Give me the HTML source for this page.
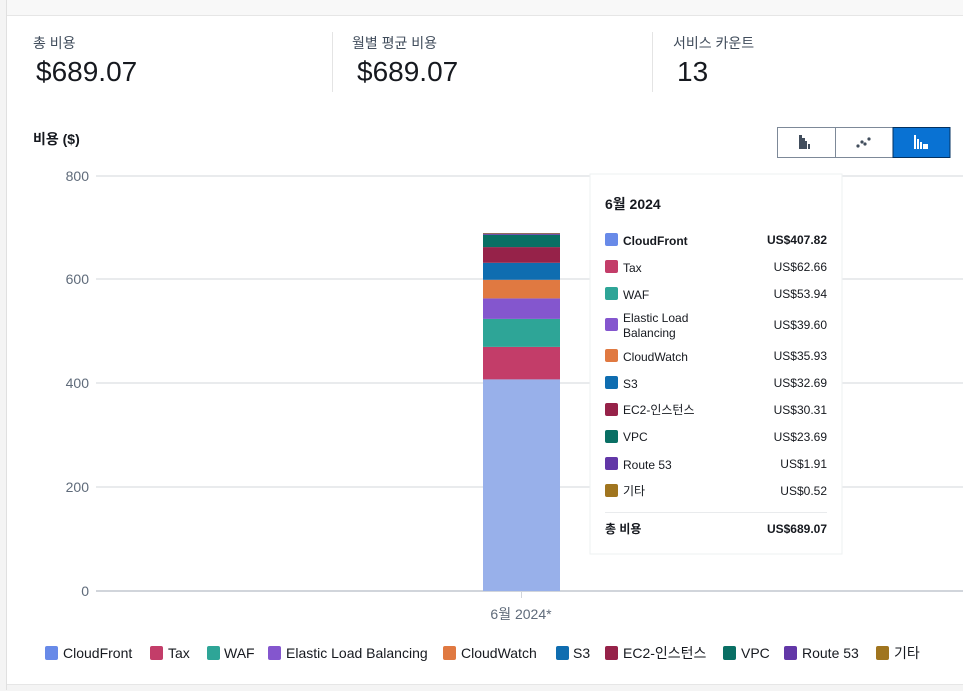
<!DOCTYPE html>
<html><head><meta charset="utf-8"><style>
body{margin:0;width:963px;height:690px;overflow:hidden;background:#fff;font-family:"Liberation Sans","Noto Sans CJK KR",sans-serif;position:relative}
.a{position:absolute;white-space:nowrap}
</style></head><body>
<div class="a" style="left:0;top:0;width:963px;height:15px;background:#f8f8f8;border-bottom:1px solid #e6e6e6"></div>
<div class="a" style="left:0;top:684px;width:963px;height:6px;background:#f4f4f4;border-top:1px solid #e6e6e6"></div>
<div class="a" style="left:0;top:0;width:6px;height:690px;background:#f4f4f4;border-right:1px solid #e0e0e0"></div>
<div class="a" style="left:332px;top:32px;width:1px;height:60px;background:#e4e4e4"></div>
<div class="a" style="left:652px;top:32px;width:1px;height:60px;background:#e4e4e4"></div>
<div class="a" style="left:33px;top:33px;font-size:14px;color:#414d5c">총 비용</div>
<div class="a" style="left:36px;top:56px;font-size:28px;color:#16191f">$689.07</div>
<div class="a" style="left:352px;top:33px;font-size:14px;color:#414d5c">월별 평균 비용</div>
<div class="a" style="left:357px;top:56px;font-size:28px;color:#16191f">$689.07</div>
<div class="a" style="left:673px;top:33px;font-size:14px;color:#414d5c">서비스 카운트</div>
<div class="a" style="left:677px;top:56px;font-size:28px;color:#16191f">13</div>
<div class="a" style="left:33px;top:129px;font-size:14px;font-weight:bold;color:#16191f">비용 ($)</div>
<svg class="a" style="left:0;top:0" width="963" height="690" font-family="Liberation Sans, Noto Sans CJK KR, sans-serif">
<rect x="777.5" y="127.5" width="172" height="30" fill="#fff" stroke="#7d8998"/>
<line x1="835.5" y1="128" x2="835.5" y2="157" stroke="#7d8998"/>
<rect x="893" y="127.5" width="57" height="30" fill="#0972d3" stroke="#033160"/>
<g fill="#414d5c"><rect x="799" y="135" width="3" height="14"/><rect x="802" y="138" width="3" height="11"/><rect x="805" y="141" width="2" height="8"/><rect x="808" y="144" width="2" height="5"/></g>
<g fill="#414d5c"><circle cx="858" cy="146" r="1.6"/><circle cx="862" cy="142" r="1.6"/><circle cx="865" cy="144" r="1.6"/><circle cx="869" cy="139" r="1.6"/></g>
<g fill="#fff"><rect x="914" y="135" width="2" height="14"/><rect x="917" y="139" width="2" height="10"/><rect x="920" y="142" width="2" height="7"/><rect x="923" y="144" width="5" height="5"/></g>
<g stroke="#e9ebed" stroke-width="2"><line x1="96" y1="176" x2="963" y2="176"/><line x1="96" y1="279" x2="963" y2="279"/><line x1="96" y1="383" x2="963" y2="383"/><line x1="96" y1="487" x2="963" y2="487"/></g>
<line x1="96" y1="591" x2="963" y2="591" stroke="#d1d5db" stroke-width="2"/>
<g font-size="14" fill="#5f6b7a" text-anchor="end"><text x="89" y="181">800</text><text x="89" y="284">600</text><text x="89" y="388">400</text><text x="89" y="492">200</text><text x="89" y="596">0</text></g>
<rect x="483" y="379.4" width="77" height="211.6" fill="#98b0ea"/>
<rect x="483" y="346.9" width="77" height="32.5" fill="#c33d69"/>
<rect x="483" y="318.9" width="77" height="28" fill="#2ea597"/>
<rect x="483" y="298.4" width="77" height="20.5" fill="#8456ce"/>
<rect x="483" y="279.8" width="77" height="18.6" fill="#e07941"/>
<rect x="483" y="262.8" width="77" height="17" fill="#0f6db0"/>
<rect x="483" y="247.1" width="77" height="15.7" fill="#962249"/>
<rect x="483" y="234.8" width="77" height="12.3" fill="#096f64"/>
<rect x="483" y="233.6" width="77" height="1.2" fill="#6237a7"/>
<rect x="483" y="233" width="77" height="0.6" fill="#a0751f"/>
<line x1="521.5" y1="592" x2="521.5" y2="598" stroke="#d1d5db"/>
<text x="521" y="619" font-size="14" fill="#5f6b7a" text-anchor="middle">6월 2024*</text>
<rect x="590" y="174" width="252" height="380" fill="#fff" stroke="#eef0f2"/>
<text x="605" y="209" font-size="14" font-weight="bold" fill="#16191f">6월 2024</text>
<g font-size="12" fill="#16191f">
<rect x="605" y="233" width="13" height="13" rx="2" fill="#688ae8"/><text x="623" y="245" font-weight="bold">CloudFront</text><text x="827" y="244" text-anchor="end" font-weight="bold">US$407.82</text>
<rect x="605" y="260" width="13" height="13" rx="2" fill="#c33d69"/><text x="623" y="272">Tax</text><text x="827" y="271" text-anchor="end">US$62.66</text>
<rect x="605" y="287" width="13" height="13" rx="2" fill="#2ea597"/><text x="623" y="299">WAF</text><text x="827" y="298" text-anchor="end">US$53.94</text>
<rect x="605" y="318" width="13" height="13" rx="2" fill="#8456ce"/><text x="623" y="322">Elastic Load</text><text x="623" y="337">Balancing</text><text x="827" y="329" text-anchor="end">US$39.60</text>
<rect x="605" y="349" width="13" height="13" rx="2" fill="#e07941"/><text x="623" y="361">CloudWatch</text><text x="827" y="360" text-anchor="end">US$35.93</text>
<rect x="605" y="376" width="13" height="13" rx="2" fill="#0f6db0"/><text x="623" y="388">S3</text><text x="827" y="387" text-anchor="end">US$32.69</text>
<rect x="605" y="403" width="13" height="13" rx="2" fill="#962249"/><text x="623" y="414">EC2-인스턴스</text><text x="827" y="414" text-anchor="end">US$30.31</text>
<rect x="605" y="430" width="13" height="13" rx="2" fill="#096f64"/><text x="623" y="441">VPC</text><text x="827" y="441" text-anchor="end">US$23.69</text>
<rect x="605" y="457" width="13" height="13" rx="2" fill="#6237a7"/><text x="623" y="469">Route 53</text><text x="827" y="468" text-anchor="end">US$1.91</text>
<rect x="605" y="484" width="13" height="13" rx="2" fill="#a0751f"/><text x="623" y="495">기타</text><text x="827" y="495" text-anchor="end">US$0.52</text>
<line x1="605" y1="512.5" x2="827" y2="512.5" stroke="#e9ebed"/>
<text x="605" y="533" font-weight="bold">총 비용</text><text x="827" y="533" text-anchor="end" font-weight="bold">US$689.07</text>
</g>
<g font-size="14" fill="#16191f">
<rect x="45" y="646" width="13" height="14" rx="2" fill="#688ae8"/><text x="63" y="658">CloudFront</text>
<rect x="150" y="646" width="13" height="14" rx="2" fill="#c33d69"/><text x="168" y="658">Tax</text>
<rect x="207" y="646" width="13" height="14" rx="2" fill="#2ea597"/><text x="224" y="658">WAF</text>
<rect x="268" y="646" width="13" height="14" rx="2" fill="#8456ce"/><text x="286" y="658">Elastic Load Balancing</text>
<rect x="443" y="646" width="13" height="14" rx="2" fill="#e07941"/><text x="461" y="658">CloudWatch</text>
<rect x="556" y="646" width="13" height="14" rx="2" fill="#0f6db0"/><text x="573" y="658">S3</text>
<rect x="605" y="646" width="13" height="14" rx="2" fill="#962249"/><text x="623" y="658">EC2-인스턴스</text>
<rect x="723" y="646" width="13" height="14" rx="2" fill="#096f64"/><text x="741" y="658">VPC</text>
<rect x="784" y="646" width="13" height="14" rx="2" fill="#6237a7"/><text x="802" y="658">Route 53</text>
<rect x="876" y="646" width="13" height="14" rx="2" fill="#a0751f"/><text x="894" y="658">기타</text>
</g>
</svg>
</body></html>
